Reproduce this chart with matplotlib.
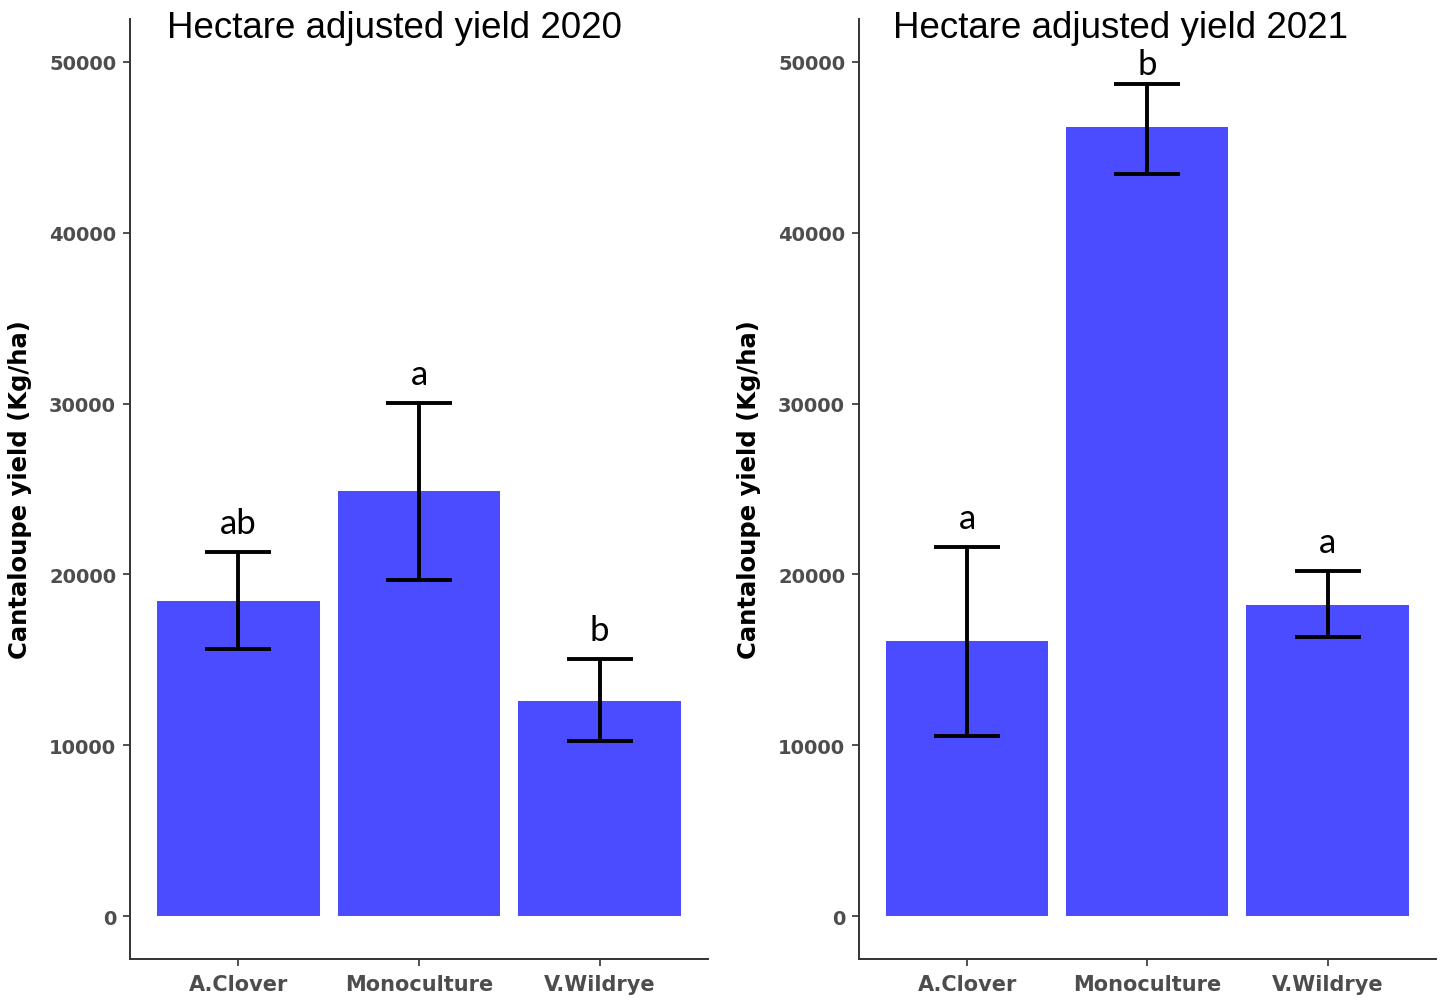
import numpy as np
import matplotlib.pyplot as plt

# Treatments and yields (kg/ha) for both seasons
treatments = ["A.Clover", "Monoculture", "V.Wildrye"]
years = ["2020", "2021"]

yield_2020 = [18450, 24900, 12600]
lower_2020 = [15630, 19670, 10250]
upper_2020 = [21310, 30030, 15050]
letters_2020 = ["ab", "a", "b"]

yield_2021 = [16100, 46200, 18200]
lower_2021 = [10540, 43440, 16340]
upper_2021 = [21600, 48710, 20200]
letters_2021 = ["a", "b", "a"]

bar_color = "#4B4BFF"
tick_grey = "#4D4D4D"

fig = plt.figure(figsize=(14.45, 10.03), dpi=100)
ax1 = fig.add_axes([0.090, 0.043, 0.400, 0.937])
ax2 = fig.add_axes([0.5945, 0.043, 0.399, 0.937])

panels = [
    (ax1, years[0], yield_2020, lower_2020, upper_2020, letters_2020, 0.458),
    (ax2, years[1], yield_2021, lower_2021, upper_2021, letters_2021, 0.453),
]

for ax, yr, means, lo, hi, letters, title_x in panels:
    x = np.arange(1, len(treatments) + 1)
    means = np.array(means)
    lo = np.array(lo)
    hi = np.array(hi)

    ax.bar(x, means, width=0.9, color=bar_color, zorder=2)
    ax.errorbar(x, means, yerr=[means - lo, hi - means], fmt="none",
                ecolor="black", elinewidth=2.8, capsize=24, capthick=2.8, zorder=3)

    # significance letters above each error bar
    for xi, top, lab in zip(x, hi, letters):
        ax.text(xi, min(top + 1100, 49300), lab, ha="center", va="baseline",
                fontsize=25, family="Lato", color="black")

    ax.set_xlim(0.4, 3.6)
    ax.set_ylim(-2500, 52500)
    ax.set_xticks(x)
    ax.set_xticklabels(treatments)
    ax.set_yticks(np.arange(0, 50001, 10000))

    for side in ["top", "right"]:
        ax.spines[side].set_visible(False)
    for side in ["left", "bottom"]:
        ax.spines[side].set_linewidth(1.4)
        ax.spines[side].set_color("#333333")

    ax.tick_params(axis="both", direction="out", length=5, width=1.2, color="#333333",
                   labelcolor=tick_grey)
    for lbl in ax.get_yticklabels():
        lbl.set_fontsize(14)
        lbl.set_fontweight("bold")
        lbl.set_family("DejaVu Sans")
    for lbl in ax.get_xticklabels():
        lbl.set_fontsize(15)
        lbl.set_fontweight("bold")
        lbl.set_family("DejaVu Sans")
    ax.tick_params(axis="x", pad=6)
    ax.tick_params(axis="y", pad=5)

    ax.set_ylabel("Cantaloupe yield (Kg/ha)", fontsize=17.5, fontweight="bold",
                  family="DejaVu Sans", labelpad=12)

    ax.text(title_x, 0.991, "Hectare adjusted yield " + yr, transform=ax.transAxes,
            ha="center", va="center", fontsize=26.5, family="Liberation Sans")

fig.savefig("out.png", dpi=100)
